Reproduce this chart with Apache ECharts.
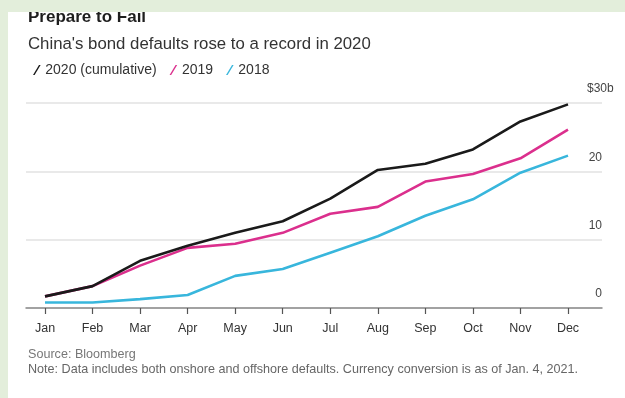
<!DOCTYPE html>
<html>
<head>
<meta charset="utf-8">
<title>Prepare to Fail</title>
<script src="https://cdn.jsdelivr.net/npm/echarts@6/dist/echarts.min.js"></script>
<style>
  html, body {
    margin: 0;
    padding: 0;
    width: 625px;
    height: 398px;
    background: #e3eedb;
    overflow: hidden;
  }
  .main {
    position: absolute;
    left: 8px;
    top: 12px;
    width: 617px;
    height: 386px;
    background: #fff;
  }
</style>
</head>
<body>
<div class="main"></div>
<script>
// 月份
var months = ["Jan", "Feb", "Mar", "Apr", "May", "Jun", "Jul", "Aug", "Sep", "Oct", "Nov", "Dec"];
// 违约金额（十亿美元，累计）
var y2020 = [1.7, 3.2, 6.9, 9.1, 11.0, 12.7, 16.0, 20.2, 21.1, 23.2, 27.3, 29.8];
var y2019 = [1.7, 3.2, 6.2, 8.8, 9.4, 11.0, 13.8, 14.8, 18.5, 19.6, 21.9, 26.1];
var y2018 = [0.8, 0.8, 1.3, 1.9, 4.7, 5.7, 8.1, 10.5, 13.5, 15.9, 19.8, 22.3];
var seriesNames = ["2020 (cumulative)", "2019", "2018"];
var yTicks = [0, 10, 20, 30];

var font = "'Liberation Sans', Arial, sans-serif";
var colors = ["#1a1a1a", "#db2f8d", "#38b6dc"];
var slash = "path://M0,10 L1.6,10 L7.6,0 L6,0 Z";

var option = {
  animation: false,
  textStyle: { fontFamily: font },
  color: colors,
  title: [
    {
      text: "Prepare to Fail",
      left: 20,
      top: -3,
      padding: 0,
      textStyle: { fontFamily: font, fontSize: 17, fontWeight: "bold", color: "#1e1e1e" },
    },
    {
      text: "China's bond defaults rose to a record in 2020",
      left: 20,
      top: 24,
      padding: 0,
      textStyle: { fontFamily: font, fontSize: 16.8, fontWeight: "normal", color: "#333" },
    },
    {
      text: "Source: Bloomberg",
      left: 20,
      top: 336,
      padding: 0,
      textStyle: { fontFamily: font, fontSize: 12.6, fontWeight: "normal", color: "#777" },
    },
    {
      text: "Note: Data includes both onshore and offshore defaults. Currency conversion is as of Jan. 4, 2021.",
      left: 20,
      top: 351,
      padding: 0,
      textStyle: { fontFamily: font, fontSize: 12.6, fontWeight: "normal", color: "#666" },
    },
  ],
  legend: {
    left: 25,
    top: 51,
    padding: 0,
    itemWidth: 9,
    itemHeight: 10,
    itemGap: 13,
    icon: slash,
    data: seriesNames,
    textStyle: { fontSize: 14, color: "#333", padding: [0, 0, 0, -1] },
  },
  // 外层网格：网格线和横轴线；内层网格：折线
  grid: [
    { left: 18, right: 23, top: 91, bottom: 90 },
    { left: 37, right: 57, top: 91, bottom: 90 },
  ],
  xAxis: [
    {
      gridIndex: 0,
      type: "value",
      min: 0,
      max: 1,
      axisLine: { show: true, lineStyle: { color: "#8a8a8a", width: 1.5 } },
      axisTick: { show: false },
      axisLabel: { show: false },
      splitLine: { show: false },
    },
    {
      gridIndex: 1,
      type: "category",
      boundaryGap: false,
      data: months,
      axisLine: { show: false },
      axisTick: { show: true, length: 6, lineStyle: { color: "#555", width: 1.2 } },
      axisLabel: { margin: 14, fontSize: 12.5, color: "#333" },
      splitLine: { show: false },
    },
  ],
  yAxis: [
    {
      gridIndex: 0,
      type: "value",
      position: "right",
      min: yTicks[0],
      max: yTicks[yTicks.length - 1],
      interval: 10,
      axisLine: { show: false },
      axisTick: { show: false },
      axisLabel: {
        inside: true,
        margin: 0,
        fontSize: 12,
        color: "#444",
        verticalAlign: "bottom",
        padding: [0, 0, 8, 0],
        formatter: function (v) {
          return v === 30 ? "{w|$" + v + "b}" : String(v);
        },
        rich: {
          w: { width: 15, align: "left", fontSize: 12, color: "#444" },
        },
      },
      splitLine: { show: true, lineStyle: { color: "#e2e2e2", width: 1.5 } },
    },
    {
      gridIndex: 1,
      type: "value",
      min: 0,
      max: 30,
      show: false,
      splitLine: { show: false },
    },
  ],
  series: [
    { name: seriesNames[0], type: "line", data: y2020 },
    { name: seriesNames[1], type: "line", data: y2019 },
    { name: seriesNames[2], type: "line", data: y2018 },
  ].map(function (s, i) {
    s.xAxisIndex = 1;
    s.yAxisIndex = 1;
    s.symbol = "none";
    s.z = 10 - i;
    s.lineStyle = { width: 2.6, color: colors[i] };
    return s;
  }),
};

var myChart = echarts.init(document.querySelector(".main"));
myChart.setOption(option);
</script>
</body>
</html>
